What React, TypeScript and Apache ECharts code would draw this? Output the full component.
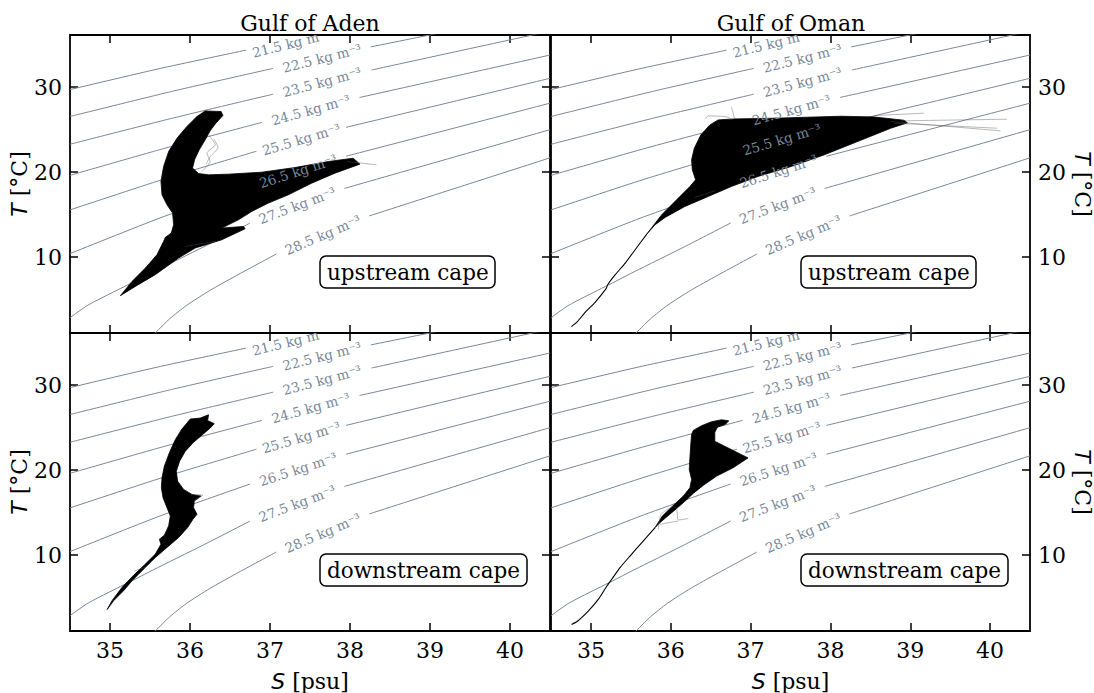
import React, { useEffect, useRef } from "react";
import * as echarts from "echarts";

// ---------- axes ----------
const S_MIN = 34.5;
const S_MAX = 40.5;
const T_MIN = 1.05;
const T_MAX = 36.15;
const S_TICKS = [35, 36, 37, 38, 39, 40];
const T_TICKS = [10, 20, 30];

// ---------- isopycnals (sigma levels) ----------
const SIGMA = ["21.5", "22.5", "23.5", "24.5", "25.5", "26.5", "27.5", "28.5"];
// segment left of the inline label
const CONTOUR_LEFT: number[][][] = [
  [[34.5, 29.72], [35.6, 32.15], [36.7, 34.37]],
  [[34.5, 26.55], [35.77, 29.5], [37.04, 32.22]],
  [[34.5, 23.28], [35.77, 26.33], [37.04, 29.18]],
  [[34.5, 19.62], [35.7, 22.85], [36.9, 25.86]],
  [[34.5, 15.55], [35.665, 19.15], [36.83, 22.46]],
  [[34.5, 10.4], [35.625, 14.6], [36.75, 18.36]],
  [[34.5, 2.85], [34.71, 4.25], [34.92, 5.3], [35.25, 6.85], [35.54, 8.25], [36.16, 11.15], [36.75, 14.0]],
  [[35.56, 1.0], [35.747, 2.73], [35.955, 4.29], [36.246, 6.05], [36.579, 7.81], [37.078, 10.35]],
];
// segment right of the inline label
const CONTOUR_RIGHT: number[][][] = [
  [],
  [[38.26, 34.75], [39.4, 36.92]],
  [[38.27, 32.03], [40.5, 36.6]],
  [[38.12, 28.79], [40.5, 33.79]],
  [[37.95, 25.27], [40.5, 31.05]],
  [[37.95, 21.87], [40.5, 28.12]],
  [[37.93, 18.08], [40.5, 25.0]],
  [[38.24, 14.84], [40.5, 21.68]],
];
const LABEL_S = [37.27, 37.65, 37.65, 37.51, 37.39, 37.35, 37.34, 37.66];
const LABEL_T = [35.2, 33.43, 30.62, 27.34, 23.86, 20.12, 16.09, 12.61];
const LABEL_ANGLE = [14, 14, 15, 15.5, 16.5, 18, 20.5, 23];

// ---------- T-S envelopes (outline of the dense profile bundles) ----------
const ADEN_UP: number[][] = [
  [36.19, 27.21], [36.39, 27.13], [36.411, 26.66], [36.323, 25.76], [36.252, 24.86], [36.19, 23.8],
  [36.115, 22.62], [36.057, 21.45], [36.032, 20.47], [36.107, 19.84], [36.232, 19.68], [36.481, 19.76],
  [36.897, 19.99], [37.313, 20.54], [37.729, 21.25], [38.04, 21.64], [38.124, 20.94], [37.812, 19.88],
  [37.521, 18.7], [37.23, 17.33], [36.98, 16.35], [36.772, 15.37], [36.606, 14.39], [36.398, 13.41],
  [36.668, 13.6], [36.689, 13.33], [36.398, 12.03], [36.065, 11.06], [35.857, 9.88], [35.566, 7.92],
  [35.317, 6.54], [35.13, 5.45], [35.275, 7.13], [35.442, 8.7], [35.587, 10.27], [35.67, 11.84],
  [35.691, 12.31], [35.766, 12.82], [35.795, 13.8], [35.783, 15.17], [35.712, 16.15], [35.65, 17.33],
  [35.637, 18.9], [35.67, 20.66], [35.733, 22.43], [35.837, 23.99], [35.961, 25.37], [36.086, 26.54],
];
const ADEN_UP_HAIRS: number[][][] = [
  [[36.232, 24.39], [36.315, 23.21], [36.211, 22.23], [36.252, 21.25], [36.149, 20.07]],
  [[36.3, 23.9], [36.35, 22.9], [36.25, 21.8], [36.2, 20.9]],
  [[35.94, 11.25], [36.32, 11.84]],
  [[37.96, 21.25], [38.33, 20.86]],
];

const OMAN_UP: number[][] = [
  [36.594, 26.15], [36.802, 26.27], [37.301, 26.35], [37.717, 26.47], [38.132, 26.58], [38.548, 26.5],
  [38.922, 26.11], [38.964, 25.8], [38.756, 25.17], [38.34, 23.6], [37.925, 22.04], [37.509, 20.66],
  [37.093, 19.49], [36.76, 18.31], [36.469, 17.13], [36.178, 15.96], [35.929, 14.66], [35.804, 13.8],
  [35.7, 12.7], [35.887, 14.98], [36.095, 16.94], [36.24, 18.31], [36.311, 19.09], [36.27, 20.27],
  [36.261, 21.45], [36.295, 22.82], [36.378, 24.39], [36.49, 25.56],
];
const OMAN_UP_TAIL: number[][] = [
  [35.7, 12.7], [35.554, 10.86], [35.43, 9.29], [35.305, 7.92], [35.21, 6.74], [35.19, 6.27],
  [35.055, 4.7], [34.931, 3.52], [34.827, 2.35], [34.756, 1.8],
];
const OMAN_UP_HAIRS: number[][][] = [
  [[38.88, 26.04], [40.21, 26.23]],
  [[38.8, 25.76], [40.09, 25.17]],
  [[38.76, 25.96], [40.13, 24.86]],
  [[38.55, 26.66], [39.17, 26.94]],
  [[36.43, 26.27], [36.47, 26.62], [36.7, 26.51], [36.76, 26.2]],
  [[36.76, 27.7], [36.8, 26.3]],
  [[36.3, 17.0], [36.55, 17.8]],
];

const ADEN_DN: number[][] = [
  [36.003, 26.01], [36.128, 26.13], [36.232, 26.52], [36.22, 25.85], [36.303, 25.46], [36.253, 24.96],
  [36.17, 24.29], [36.045, 23.28], [35.941, 22.22], [35.87, 21.05], [35.829, 19.87], [35.845, 18.7],
  [35.92, 17.73], [36.024, 17.14], [36.136, 16.94], [36.053, 16.36], [36.045, 15.58], [36.087, 14.79],
  [36.037, 14.21], [35.97, 13.23], [35.858, 12.06], [35.712, 10.89], [35.567, 9.71], [35.421, 8.35],
  [35.276, 6.98], [35.172, 5.81], [35.047, 4.63], [34.964, 3.58], [35.026, 4.63], [35.151, 6.2],
  [35.297, 7.64], [35.442, 8.93], [35.567, 10.11], [35.637, 11.28], [35.617, 11.86], [35.679, 12.33],
  [35.733, 13.43], [35.754, 14.6], [35.712, 15.58], [35.663, 16.75], [35.642, 17.92], [35.65, 19.09],
  [35.679, 20.46], [35.741, 22.02], [35.816, 23.59], [35.899, 24.84],
];
const ADEN_DN_HAIRS: number[][][] = [
  [[36.02, 17.1], [36.16, 17.05], [36.06, 16.4]],
  [[35.3, 8.1], [35.45, 8.6]],
];

const OMAN_DN: number[][] = [
  [36.282, 24.68], [36.386, 25.23], [36.511, 25.7], [36.636, 25.93], [36.727, 25.81], [36.685, 25.39],
  [36.586, 25.07], [36.552, 24.45], [36.552, 23.39], [36.968, 21.44], [36.781, 20.27], [36.573, 19.29],
  [36.407, 18.2], [36.282, 17.26], [36.157, 16.16], [36.012, 14.99], [35.866, 13.82], [35.804, 13.23],
  [35.895, 14.6], [36.033, 15.85], [36.157, 16.94], [36.24, 17.92], [36.261, 18.9], [36.232, 20.07],
  [36.24, 21.44], [36.249, 22.81], [36.261, 24.17],
];
const OMAN_DN_TAIL: number[][] = [
  [35.804, 13.23], [35.638, 11.47], [35.492, 9.91], [35.367, 8.54], [35.263, 7.17], [35.2, 6.35],
  [35.097, 4.83], [34.972, 3.46], [34.827, 2.17], [34.758, 1.83],
];
const OMAN_DN_HAIRS: number[][][] = [
  [[35.845, 13.04], [35.879, 14.79], [36.033, 15.69], [36.074, 15.46], [36.095, 14.13], [36.22, 14.29]],
  [[35.866, 13.62], [36.095, 14.01]],
];

const PANEL_TITLES = ["Gulf of Aden", "Gulf of Oman"];
const CAPE_LABELS = ["upstream cape", "upstream cape", "downstream cape", "downstream cape"];

const SERIF = "DejaVu Serif";
const ISO_COLOR = "#778899";
const FS = 22;

const PANELS = [
  { blob: ADEN_UP, tail: [] as number[][], hairs: ADEN_UP_HAIRS },
  { blob: OMAN_UP, tail: OMAN_UP_TAIL, hairs: OMAN_UP_HAIRS },
  { blob: ADEN_DN, tail: [] as number[][], hairs: ADEN_DN_HAIRS },
  { blob: OMAN_DN, tail: OMAN_DN_TAIL, hairs: OMAN_DN_HAIRS },
];

const GRIDS = [
  { left: 70, top: 35, width: 480, height: 298 },
  { left: 551, top: 35, width: 480, height: 298 },
  { left: 70, top: 333, width: 480, height: 299 },
  { left: 551, top: 333, width: 480, height: 299 },
];

const NAME_STYLE = {
  fontSize: FS,
  fontFamily: SERIF,
  color: "#000",
  rich: { i: { fontStyle: "italic", fontFamily: "DejaVu Sans", fontSize: FS, color: "#000" } },
};

function xAxis(g: number, pos: string, showLabel: boolean) {
  return {
    type: "value",
    gridIndex: g,
    position: pos,
    min: S_MIN,
    max: S_MAX,
    axisLine: { show: true, onZero: false, lineStyle: { color: "#000", width: 1.8 } },
    axisTick: { show: true, inside: true, length: 8, customValues: S_TICKS, lineStyle: { color: "#000", width: 1.5 } },
    axisLabel: { show: showLabel, customValues: S_TICKS, margin: 8, color: "#000", fontSize: FS, fontFamily: SERIF },
    splitLine: { show: false },
    name: showLabel ? "{i|S} [psu]" : "",
    nameLocation: "middle",
    nameGap: 39,
    nameTextStyle: NAME_STYLE,
  };
}

function yAxis(g: number, pos: string, showLabel: boolean) {
  const right = pos === "right";
  return {
    type: "value",
    gridIndex: g,
    position: pos,
    min: T_MIN,
    max: T_MAX,
    axisLine: { show: true, onZero: false, lineStyle: { color: "#000", width: 1.8 } },
    axisTick: { show: true, inside: true, length: 8, customValues: T_TICKS, lineStyle: { color: "#000", width: 1.5 } },
    axisLabel: { show: showLabel, customValues: T_TICKS, margin: 8, color: "#000", fontSize: FS, fontFamily: SERIF },
    splitLine: { show: false },
    name: showLabel ? "{i|T} [°C]" : "",
    nameLocation: "middle",
    nameRotate: right ? -90 : 90,
    nameGap: right ? 41 : 37,
    nameTextStyle: NAME_STYLE,
  };
}

function lineSeries(g: number, data: number[][], color: string, width: number, z: number, opacity = 1) {
  return {
    type: "line",
    xAxisIndex: 2 * g,
    yAxisIndex: 2 * g,
    data,
    showSymbol: false,
    symbol: "none",
    silent: true,
    clip: true,
    smooth: 0.2,
    lineStyle: { color, width, opacity },
    z,
  };
}

function blobSeries(g: number, pts: number[][]) {
  return {
    type: "custom",
    coordinateSystem: "cartesian2d",
    xAxisIndex: 2 * g,
    yAxisIndex: 2 * g,
    data: pts,
    silent: true,
    z: 3,
    renderItem: (params: any, api: any) => {
      if (params.dataIndex !== 0) return null;
      return {
        type: "polygon",
        shape: { points: pts.map((p) => api.coord(p)) },
        style: { fill: "#000", stroke: "#000", lineWidth: 0.8, lineJoin: "round" },
      };
    },
  };
}

function labelSeries(g: number) {
  return {
    type: "custom",
    coordinateSystem: "cartesian2d",
    xAxisIndex: 2 * g,
    yAxisIndex: 2 * g,
    data: LABEL_S.map((s, i) => [s, LABEL_T[i]]),
    silent: true,
    z: 6,
    renderItem: (params: any, api: any) => {
      const i = params.dataIndex;
      const c = api.coord([LABEL_S[i], LABEL_T[i]]);
      const cs = params.coordSys;
      return {
        type: "group",
        clipPath: { type: "rect", shape: { x: cs.x, y: cs.y, width: cs.width, height: cs.height } },
        children: [
          {
            type: "text",
            x: c[0],
            y: c[1],
            rotation: (LABEL_ANGLE[i] * Math.PI) / 180,
            style: {
              text: SIGMA[i] + " kg m⁻³",
              fill: ISO_COLOR,
              fontSize: 13.5,
              fontFamily: SERIF,
              align: "center",
              verticalAlign: "middle",
            },
          },
        ],
      };
    },
  };
}

function buildOption() {
  const xAxes: any[] = [];
  const yAxes: any[] = [];
  const series: any[] = [];
  GRIDS.forEach((_, g) => {
    const bottomRow = g >= 2;
    const rightCol = g % 2 === 1;
    xAxes.push(xAxis(g, "bottom", bottomRow));
    xAxes.push(xAxis(g, "top", false));
    yAxes.push(yAxis(g, "left", !rightCol));
    yAxes.push(yAxis(g, "right", rightCol));

    CONTOUR_LEFT.forEach((seg) => series.push(lineSeries(g, seg, ISO_COLOR, 1, 2)));
    CONTOUR_RIGHT.forEach((seg) => {
      if (seg.length) series.push(lineSeries(g, seg, ISO_COLOR, 1, 2));
    });
    const p = PANELS[g];
    p.hairs.forEach((h) => series.push(lineSeries(g, h, "#555", 0.6, 3, 0.7)));
    series.push(blobSeries(g, p.blob));
    if (p.tail.length) series.push(lineSeries(g, p.tail, "#000", 1.1, 4));
    series.push(labelSeries(g));
  });

  const titles: any[] = [
    { text: PANEL_TITLES[0], left: 310, top: 12 },
    { text: PANEL_TITLES[1], left: 791, top: 12 },
  ].map((t) => ({
    ...t,
    textAlign: "center",
    padding: 0,
    textStyle: { fontSize: FS, fontFamily: SERIF, fontWeight: "normal", color: "#000" },
  }));
  const capePos = [
    [320, 256],
    [801, 256],
    [320, 554],
    [801, 554],
  ];
  CAPE_LABELS.forEach((txt, i) => {
    titles.push({
      text: txt,
      left: capePos[i][0],
      top: capePos[i][1],
      padding: [4, 7],
      borderColor: "#000",
      borderWidth: 1.5,
      borderRadius: 6,
      backgroundColor: "#fff",
      textStyle: { fontSize: 21.5, fontFamily: SERIF, fontWeight: "normal", color: "#000", lineHeight: 24 },
    });
  });

  return {
    animation: false,
    backgroundColor: "#fff",
    title: titles,
    grid: GRIDS.map((gr) => ({ ...gr, show: false, containLabel: false })),
    xAxis: xAxes,
    yAxis: yAxes,
    series,
  };
}

export default function App() {
  const ref = useRef<HTMLDivElement>(null);
  useEffect(() => {
    if (!ref.current) return;
    const chart = echarts.init(ref.current, null, { renderer: "svg" });
    chart.setOption(buildOption() as any);
    return () => chart.dispose();
  }, []);
  return (
    <div
      ref={ref}
      style={{ position: "fixed", left: 0, top: 0, width: 1094, height: 693, background: "#fff" }}
    />
  );
}
